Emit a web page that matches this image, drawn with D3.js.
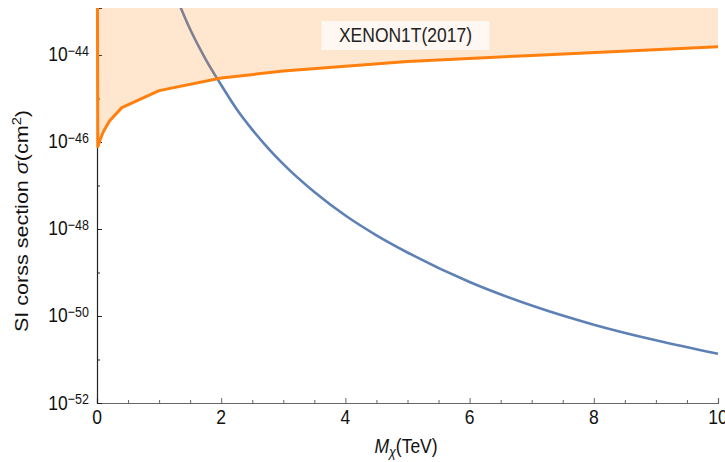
<!DOCTYPE html>
<html>
<head>
<meta charset="utf-8">
<script src="https://cdn.jsdelivr.net/npm/d3@7"></script>
<style>
  html, body { margin: 0; padding: 0; background: #fff; }
  svg { display: block; font-family: "Liberation Sans", Arial, sans-serif; }
</style>
</head>
<body>
<svg id="chart" width="725" height="462"></svg>
<script>
// ---- data ----
// Theory prediction (blue): mass in TeV, log10 of cross section in cm^2
const blueMass = [1.3, 1.5, 1.75, 2, 2.25, 2.5, 2.75, 3, 3.5, 4, 4.5, 5, 6, 7, 8, 9, 10];
const blueLogSigma = [-42.75, -43.41, -44.10, -44.69, -45.245, -45.715, -46.135, -46.51, -47.15, -47.69, -48.145, -48.54, -49.22, -49.76, -50.20, -50.56, -50.87];

// XENON1T(2017) limit (orange)
const xenonMass = [0.002, 0.013, 0.05, 0.1, 0.2, 0.4, 1, 2, 3, 5, 7, 10];
const xenonLogSigma = [-40, -46.11, -45.95, -45.77, -45.52, -45.21, -44.82, -44.53, -44.37, -44.15, -44.01, -43.81];

const xMajorTicks = [0, 2, 4, 6, 8, 10];
const xMinorTicks = [0.5, 1, 1.5, 2.5, 3, 3.5, 4.5, 5, 5.5, 6.5, 7, 7.5, 8.5, 9, 9.5];
const yMajorExp = [-52, -50, -48, -46, -44];
const yMinorExp = [-51, -49, -47, -45];
const labelText = "XENON1T(2017)";

// ---- layout ----
const svg = d3.select("#chart");
const pLeft = 97, pRight = 718, pTop = 8, pBottom = 403;
const vStretch = 1.2;   // the reference's text is taller than it is wide
const fontSize = 17.5;
const x = d3.scaleLinear().domain([0, 10]).range([pLeft, pRight]);
const y = d3.scaleLog().domain([1e-52, Math.pow(10, -42.92)]).range([pBottom, pTop]);

const blue = blueMass.map((m, i) => ({ m, s: Math.pow(10, blueLogSigma[i]) }));
const xenon = xenonMass.map((m, i) => ({ m, s: Math.pow(10, xenonLogSigma[i]) }));

function stretchedText(px, py, anchor, size) {
  return svg.append("text")
    .attr("transform", `translate(${px},${py}) scale(1,${vStretch})`)
    .attr("text-anchor", anchor).attr("font-size", size).attr("fill", "#111");
}

svg.append("defs").append("clipPath").attr("id", "clip")
  .append("rect").attr("x", pLeft - 2).attr("y", pTop).attr("width", 725 - pLeft + 2).attr("height", pBottom - pTop);

// ---- axes ----
const xAxisG = svg.append("g").attr("transform", `translate(0,${pBottom})`)
  .call(d3.axisBottom(x).tickValues(xMajorTicks).tickSize(-5).tickFormat(""));
xAxisG.select(".domain").attr("stroke", "#666").attr("stroke-width", 1.2);
xAxisG.selectAll(".tick line").attr("stroke", "#666");
const xMinorG = svg.append("g").attr("transform", `translate(0,${pBottom})`)
  .call(d3.axisBottom(x).tickValues(xMinorTicks).tickSize(-3).tickFormat(""));
xMinorG.select(".domain").remove();
xMinorG.selectAll(".tick line").attr("stroke", "#666");
xMajorTicks.forEach(v => {
  stretchedText(x(v), 424, "middle", fontSize).text(d3.format("d")(v));
});

const yAxisG = svg.append("g").attr("transform", `translate(${pLeft},0)`)
  .call(d3.axisLeft(y).tickValues(yMajorExp.map(e => Math.pow(10, e))).tickSize(-5).tickFormat(""));
yAxisG.select(".domain").attr("stroke", "#222").attr("stroke-width", 1.2);
yAxisG.selectAll(".tick line").attr("stroke", "#222");
const yMinorG = svg.append("g").attr("transform", `translate(${pLeft},0)`)
  .call(d3.axisLeft(y).tickValues(yMinorExp.map(e => Math.pow(10, e))).tickSize(-3).tickFormat(""));
yMinorG.select(".domain").remove();
yMinorG.selectAll(".tick line").attr("stroke", "#222");

// y tick labels with superscripts
yMajorExp.forEach(e => {
  const t = stretchedText(pLeft - 8, y(Math.pow(10, e)) + 6.5, "end", fontSize);
  t.append("tspan").text("10");
  t.append("tspan").attr("dy", -4.5).attr("font-size", 12.5).text("\u2212" + Math.abs(e));
});

// ---- curves ----
const plot = svg.append("g").attr("clip-path", "url(#clip)");

const blueLine = d3.line().x(d => x(d.m)).y(d => y(d.s)).curve(d3.curveMonotoneX);
plot.append("path").datum(blue).attr("d", blueLine)
  .attr("fill", "none").attr("stroke", "#5e81b5").attr("stroke-width", 2.6);

const area = d3.area().x(d => x(d.m)).y0(pTop - 5).y1(d => y(d.s));
plot.append("path").datum(xenon).attr("d", area)
  .attr("fill", "rgb(255,128,14)").attr("fill-opacity", 0.2).attr("stroke", "none");

const xenonLine = d3.line().x(d => x(d.m)).y(d => y(d.s));
plot.append("path").datum(xenon).attr("d", xenonLine)
  .attr("fill", "none").attr("stroke", "rgb(255,128,14)").attr("stroke-width", 3)
  .attr("stroke-linejoin", "round");

// ---- label box ----
const lx = 405.5, ly = 35.5;
svg.append("rect").attr("x", lx - 84).attr("y", ly - 14.5).attr("width", 168).attr("height", 29)
  .attr("fill", "#fff").attr("fill-opacity", 0.72);
stretchedText(lx, ly + 6, "middle", fontSize).attr("fill", "#222").text(labelText);

// ---- axis titles ----
const xt = stretchedText(406, 453, "middle", fontSize);
xt.append("tspan").attr("font-style", "italic").text("M");
xt.append("tspan").attr("font-style", "italic").attr("font-size", 12.5).attr("dy", 3.5).text("\u03c7");
xt.append("tspan").attr("dy", -3.5).text("(TeV)");

const yt = svg.append("text").attr("transform", `translate(28,221) rotate(-90) scale(1.23,1)`)
  .attr("text-anchor", "middle").attr("font-size", fontSize).attr("fill", "#111");
yt.append("tspan").text("SI corss section ");
yt.append("tspan").attr("font-style", "italic").text("\u03c3");
yt.append("tspan").text("(cm");
yt.append("tspan").attr("font-size", 12).attr("dy", -7).text("2");
yt.append("tspan").attr("dy", 7).text(")");
</script>
</body>
</html>
